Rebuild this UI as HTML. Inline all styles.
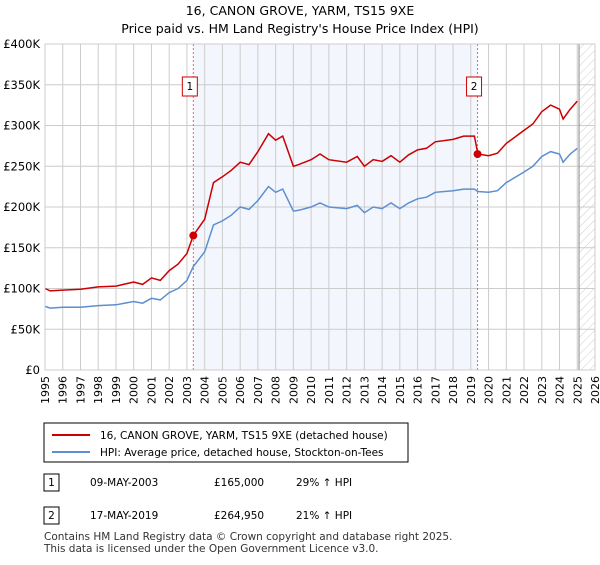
<!DOCTYPE html>
<html><head><meta charset="utf-8"><style>
body{margin:0;background:#fff;font-family:"Liberation Sans","DejaVu Sans",sans-serif;}
svg text{font-family:"DejaVu Sans","Liberation Sans",sans-serif;}
</style></head><body>
<svg width="600" height="560" xmlns="http://www.w3.org/2000/svg" id="c">
<defs><pattern id="h" width="6" height="6" patternUnits="userSpaceOnUse" patternTransform="rotate(45)"><line x1="0" y1="0" x2="0" y2="6" stroke="#ccc" stroke-width="1"/></pattern></defs>
<text x="300" y="15" text-anchor="middle" font-size="12.5">16, CANON GROVE, YARM, TS15 9XE</text>
<text x="300" y="33" text-anchor="middle" font-size="12.5">Price paid vs. HM Land Registry's House Price Index (HPI)</text>
<g id="plot"></g>
<g>
<rect x="44" y="423" width="364" height="39" fill="#fff" stroke="#000" stroke-width="1"/>
<line x1="52" y1="435" x2="90" y2="435" stroke="#cc0000" stroke-width="2"/>
<text x="100" y="439" font-size="10.5">16, CANON GROVE, YARM, TS15 9XE (detached house)</text>
<line x1="52" y1="452" x2="90" y2="452" stroke="#5b8fd0" stroke-width="2"/>
<text x="100" y="456" font-size="10.5">HPI: Average price, detached house, Stockton-on-Tees</text>
</g>
<g font-size="10.5">
<rect x="44" y="474" width="15" height="17" fill="#fff" stroke="#000"/><text x="51.5" y="486" text-anchor="middle">1</text>
<text x="90" y="486">09-MAY-2003</text><text x="214" y="486">£165,000</text><text x="296" y="486">29% ↑ HPI</text>
<rect x="44" y="507" width="15" height="17" fill="#fff" stroke="#000"/><text x="51.5" y="519" text-anchor="middle">2</text>
<text x="90" y="519">17-MAY-2019</text><text x="214" y="519">£264,950</text><text x="296" y="519">21% ↑ HPI</text>
</g>
<text x="44" y="540" font-size="10.5" fill="#333">Contains HM Land Registry data © Crown copyright and database right 2025.</text>
<text x="44" y="552" font-size="10.5" fill="#333">This data is licensed under the Open Government Licence v3.0.</text>
</svg>
<script>
const yearTicks=[1995,1996,1997,1998,1999,2000,2001,2002,2003,2004,2005,2006,2007,2008,2009,2010,2011,2012,2013,2014,2015,2016,2017,2018,2019,2020,2021,2022,2023,2024,2025,2026];
const valueTicks=[0,50,100,150,200,250,300,350,400];
const valueLabels=["£0","£50K","£100K","£150K","£200K","£250K","£300K","£350K","£400K"];
const times=[1995,1995.3,1996,1997,1998,1999,2000,2000.5,2001,2001.5,2002,2002.5,2003,2003.36,2004,2004.5,2005,2005.5,2006,2006.5,2007,2007.6,2008,2008.4,2009,2009.3,2010,2010.5,2011,2012,2012.6,2013,2013.5,2014,2014.5,2015,2015.5,2016,2016.5,2017,2018,2018.6,2019.2,2019.4,2020,2020.5,2021,2022,2022.5,2023,2023.5,2024,2024.2,2024.6,2025];
const hpiValues=[78,76,77,77,79,80,84,82,88,86,95,100,110,127,145,178,183,190,200,197,208,225,218,222,195,196,200,205,200,198,202,193,200,198,205,198,205,210,212,218,220,222,222,219,218,220,230,243,250,262,268,265,255,265,272];
const priceValues=[100,97,98,99,102,103,108,105,113,110,122,130,143,165,185,230,237,245,255,252,268,290,282,287,250,252,258,265,258,255,262,250,258,256,263,255,264,270,272,280,283,287,287,265,263,266,278,294,302,317,325,320,308,320,330];
const sales=[{t:2003.36,v:165,label:"1"},{t:2019.38,v:264.95,label:"2"}];
const X0=45,X1=595,Y0=370,Y1=44;
const xs=t=>X0+(t-1995)/(2026-1995)*(X1-X0);
const ys=v=>Y0-v/400*(Y0-Y1);
const NS="http://www.w3.org/2000/svg";
const g=document.getElementById('plot');
function mk(tag,attrs){const e=document.createElementNS(NS,tag);for(const k in attrs)e.setAttribute(k,attrs[k]);g.appendChild(e);return e;}
let e=mk('rect',{x:xs(sales[0].t),y:Y1,width:xs(sales[1].t)-xs(sales[0].t),height:Y0-Y1,fill:'#eef2fc',opacity:0.7});


e=mk('rect',{x:xs(2025.1),y:Y1,width:X1-xs(2025.1),height:Y0-Y1,fill:'url(#h)'});


yearTicks.forEach(y=>{
 let l=mk('line',{x1:xs(y),x2:xs(y),y1:Y1,y2:Y0,stroke:'#ccc','stroke-width':1});
 
 
 let t=mk('text',{x:0,y:0,'font-size':11,'text-anchor':'end',transform:`translate(${xs(y)+4},${Y0+6}) rotate(-90)`});
 t.textContent=y;
 
 
});
valueTicks.forEach((v,i)=>{
 let l=mk('line',{x1:X0,x2:X1,y1:ys(v),y2:ys(v),stroke:'#ccc','stroke-width':1});
 
 
 let t=mk('text',{x:X0-5,y:ys(v)+4,'font-size':11.5,'text-anchor':'end'});
 t.textContent=valueLabels[i];
 
 
});
e=mk('line',{x1:xs(2025.1),x2:xs(2025.1),y1:Y1,y2:Y0,stroke:'#888','stroke-width':1});


sales.forEach(s=>{
 let l=mk('line',{x1:xs(s.t),x2:xs(s.t),y1:Y1,y2:Y0,stroke:'#f06060','stroke-width':1,'stroke-dasharray':'2,2'});
 
 
});
function path(vals,color,name){
 const d=times.map((t,i)=>(i?'L':'M')+xs(t).toFixed(1)+','+ys(vals[i]).toFixed(1)).join('');
 const p=mk('path',{d:d,fill:'none',stroke:color,'stroke-width':1.5});
 
 
}
path(hpiValues,'#5b8fd0','hpi-line');
path(priceValues,'#cc0000','price-line');
sales.forEach(s=>{
 let c=mk('circle',{cx:xs(s.t),cy:ys(s.v),r:4,fill:'#cc0000'});
 
 
 let b=mk('rect',{x:xs(s.t)-11,y:77,width:15,height:19,fill:'#fff',stroke:'#cc0000'});
 
 
 let t=mk('text',{x:xs(s.t)-3.5,y:90,'font-size':10.5,'text-anchor':'middle'});
 t.textContent=s.label;
 
 
});
e=mk('rect',{x:X0,y:Y1,width:X1-X0,height:Y0-Y1,fill:'none',stroke:'#ccc'});


</script>
</body></html>
